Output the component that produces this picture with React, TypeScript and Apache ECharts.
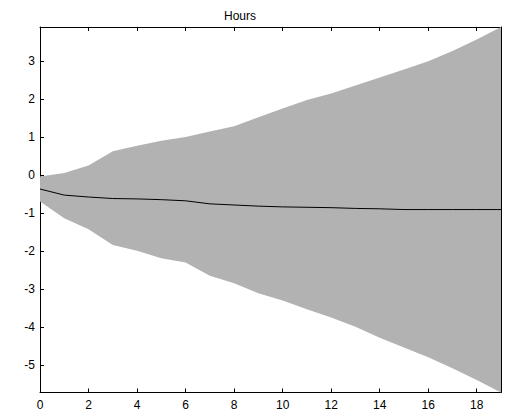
import React, { useEffect, useRef } from "react";
import * as echarts from "echarts";

const steps = [0, 1, 2, 3, 4, 5, 6, 7, 8, 9, 10, 11, 12, 13, 14, 15, 16, 17, 18, 19];
const upper = [-0.03, 0.06, 0.26, 0.63, 0.78, 0.91, 1.01, 1.15, 1.29, 1.53, 1.76, 1.98, 2.15, 2.36, 2.57, 2.78, 3.0, 3.27, 3.57, 3.9];
const lower = [-0.69, -1.13, -1.42, -1.83, -1.98, -2.18, -2.29, -2.64, -2.84, -3.1, -3.29, -3.52, -3.74, -3.98, -4.27, -4.53, -4.78, -5.07, -5.38, -5.71];
const response = [-0.36, -0.52, -0.57, -0.61, -0.62, -0.64, -0.67, -0.75, -0.78, -0.81, -0.83, -0.84, -0.85, -0.87, -0.88, -0.9, -0.9, -0.9, -0.9, -0.9];
const yTicks = [-5, -4, -3, -2, -1, 0, 1, 2, 3];
const xTicks = [0, 2, 4, 6, 8, 10, 12, 14, 16, 18];
const title = "Hours";

export default function App() {
  const ref = useRef<HTMLDivElement>(null);
  useEffect(() => {
    const chart = echarts.init(ref.current!, null, { renderer: "svg" });
    const font = "Liberation Sans, Arial, sans-serif";
    const axisLine = { show: true, onZero: false, lineStyle: { color: "#000", width: 1 } };
    const tick = { show: true, inside: true, length: 4, lineStyle: { color: "#000" } };
    chart.setOption({
      animation: false,
      backgroundColor: "#fff",
      title: {
        text: title,
        left: 219,
        top: 5,
        textStyle: { fontFamily: font, fontSize: 12, fontWeight: "normal", color: "#000" },
      },
      grid: { left: 40, right: 8, top: 27, bottom: 22.5, containLabel: false },
      xAxis: [
        {
          type: "value",
          min: 0,
          max: 19,
          position: "bottom",
          axisLine,
          axisTick: { ...tick, customValues: xTicks },
          axisLabel: { customValues: xTicks, color: "#000", fontFamily: font, fontSize: 12, margin: 6 },
          splitLine: { show: false },
        },
        {
          type: "value",
          min: 0,
          max: 19,
          position: "top",
          axisLine,
          axisTick: { ...tick, customValues: xTicks },
          axisLabel: { show: false },
          splitLine: { show: false },
        },
      ],
      yAxis: [
        {
          type: "value",
          min: -5.71,
          max: 3.9,
          position: "left",
          axisLine,
          axisTick: { ...tick, customValues: yTicks },
          axisLabel: { customValues: yTicks, color: "#000", fontFamily: font, fontSize: 12, margin: 5 },
          splitLine: { show: false },
        },
        {
          type: "value",
          min: -5.71,
          max: 3.9,
          position: "right",
          axisLine,
          axisTick: { ...tick, customValues: yTicks },
          axisLabel: { show: false },
          splitLine: { show: false },
        },
      ],
      series: [
        {
          type: "custom",
          data: [0],
          silent: true,
          z: 1,
          renderItem: (_params: any, api: any) => {
            const pts: number[][] = [];
            steps.forEach((s, i) => pts.push(api.coord([s, upper[i]])));
            for (let i = steps.length - 1; i >= 0; i--) pts.push(api.coord([steps[i], lower[i]]));
            return {
              type: "polygon",
              shape: { points: pts },
              style: { fill: "#b2b2b2", stroke: "none" },
            };
          },
        },
        {
          type: "line",
          data: steps.map((s, i) => [s, response[i]]),
          symbol: "none",
          lineStyle: { color: "#000", width: 1 },
          z: 3,
        },
      ],
    });
    return () => chart.dispose();
  }, []);
  return (
    <div
      ref={ref}
      style={{ position: "fixed", left: 0, top: 0, width: 509, height: 415, background: "#fff" }}
    />
  );
}
